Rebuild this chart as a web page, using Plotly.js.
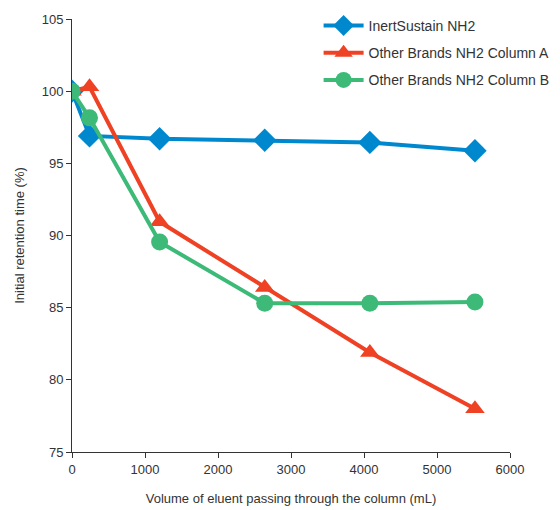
<!DOCTYPE html>
<html>
<head>
<meta charset="utf-8">
<script src="https://cdn.plot.ly/plotly-3.0.1.min.js"></script>
<style>html,body{margin:0;padding:0;background:#fff;}#chart{width:560px;height:510px;}</style>
</head>
<body>
<div id="chart"></div>
<script>
const seriesNames = ["InertSustain NH2", "Other Brands NH2 Column A", "Other Brands NH2 Column B"];
const volume = [0, 240, 1200, 2640, 4080, 5520];
const inertSustain = [100, 96.9, 96.7, 96.6, 96.45, 95.87];
const brandA = [100, 100.3, 90.95, 86.4, 81.9, 78.0];
const brandB = [100, 98.15, 89.55, 85.3, 85.3, 85.4];
const xTicks = [0, 1000, 2000, 3000, 4000, 5000, 6000];
const yTicks = [75, 80, 85, 90, 95, 100, 105];

const colors = ["#0088cf", "#ef4123", "#3dba78"];
const symbols = ["diamond", "triangle-up", "circle"];
const sizes = [18, 17, 17];
const ys = [inertSustain, brandA, brandB];

const traces = ys.map((y, i) => ({
  x: volume, y: y, name: seriesNames[i], type: "scatter", mode: "lines+markers",
  legendgroup: "g" + i,
  line: {color: colors[i], width: 4},
  marker: {symbol: symbols[i], color: colors[i], size: sizes[i]}
}));

const fam = "Liberation Sans, Arial, sans-serif";
const axisFont = {family: fam, size: 13, color: "#333"};
const layout = {
  width: 560, height: 510,
  margin: {l: 72, r: 50, t: 19, b: 58, autoexpand: false},
  paper_bgcolor: "#fff", plot_bgcolor: "#fff",
  font: axisFont,
  showlegend: true,
  legend: {x: 0.563, y: 1.021, xanchor: "left", yanchor: "top", bgcolor: "rgba(0,0,0,0)",
           itemwidth: 40, traceorder: "grouped", tracegroupgap: 6,
           font: {family: fam, size: 14, color: "#333"}},
  xaxis: {range: [0, 6000], tickvals: xTicks, ticktext: xTicks.map(String), showgrid: false, zeroline: false,
          showline: true, linecolor: "#333", linewidth: 1, ticks: "outside", ticklen: 5, tickcolor: "#333",
          tickfont: axisFont, automargin: false,
          title: {text: "Volume of eluent passing through the column (mL)", font: axisFont, standoff: 18}},
  yaxis: {range: [75, 105], tickvals: yTicks, ticktext: yTicks.map(String), showgrid: false, zeroline: false,
          showline: true, linecolor: "#333", linewidth: 1, ticks: "outside", ticklen: 5, tickcolor: "#333",
          tickfont: axisFont, automargin: false,
          title: {text: "Initial retention time (%)", font: axisFont, standoff: 14}}
};
Plotly.newPlot("chart", traces, layout, {displayModeBar: false, staticPlot: true});
</script>
</body>
</html>
